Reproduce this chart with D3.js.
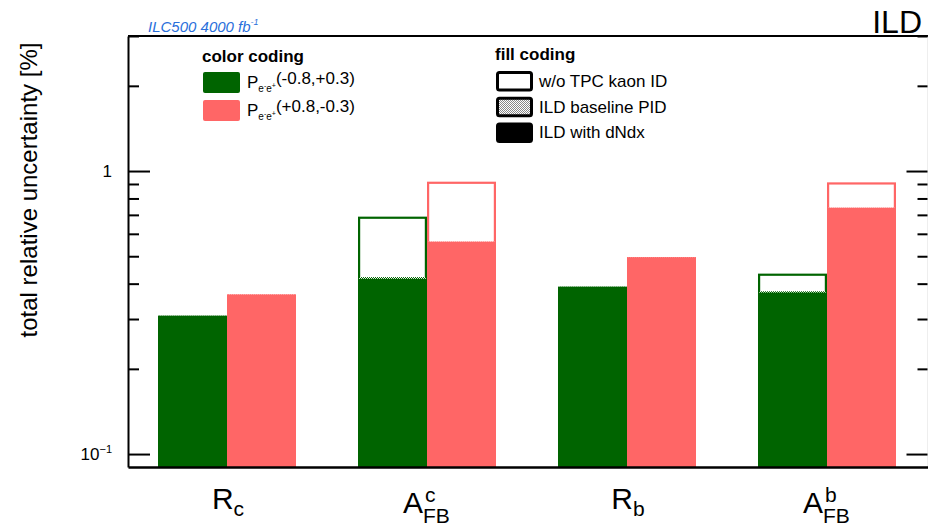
<!DOCTYPE html>
<meta charset="utf-8">

<head>
    <meta charset="utf-8">
    <script src="https://d3js.org/d3.v7.min.js"></script>
    <style>
        body { margin: 0; background: #fff; }
        svg { font-family: "Liberation Sans", Arial, Helvetica, sans-serif; }
    </style>
</head>

<body>
    <svg width="928" height="530"></svg>

    <script>
        // values
        var categories = ["Rc", "AFBc", "Rb", "AFBb"];
        var labelMain = ["R", "A", "R", "A"];
        var labelSub = ["c", "FB", "b", "FB"];
        var labelSup = ["", "c", "", "b"];

        // P(-0.8,+0.3)
        var woTpcLeft = [0.308, 0.690, 0.390, 0.434];
        var baselineLeft = [0.308, 0.422, 0.390, 0.376];
        var dndxLeft = [0.308, 0.416, 0.390, 0.372];
        // P(+0.8,-0.3)
        var woTpcRight = [0.366, 0.917, 0.496, 0.912];
        var baselineRight = [0.366, 0.563, 0.496, 0.742];
        var dndxRight = [0.366, 0.563, 0.496, 0.742];

        var majorTicks = [0.1, 1];
        var minorTicks = [0.2, 0.3, 0.4, 0.5, 0.6, 0.7, 0.8, 0.9, 2, 3];

        var green = "#006400";
        var red = "#ff6666";

        var svg = d3.select("svg");
        // note: "top" is taken by window.top, so use other names
        var plotL = 128, plotR = 928, plotT = 36, plotB = 467;

        var x = d3.scaleBand().domain(categories).range([plotL, plotR]).padding(0);
        var bw = x.bandwidth();
        var pol = d3.scaleBand().domain(["L", "R"]).range([0.15 * bw, 0.84 * bw]).padding(0);
        var y = d3.scaleLog().domain([0.09, 3.0]).range([plotB, plotT]);

        // dotted fill for the baseline PID
        var defs = svg.append("defs");
        function dots(id, c) {
            var p = defs.append("pattern").attr("id", id)
                .attr("width", 2).attr("height", 2).attr("patternUnits", "userSpaceOnUse");
            p.append("rect").attr("width", 2).attr("height", 2).attr("fill", "#fff");
            p.append("rect").attr("width", 1).attr("height", 1).attr("fill", c);
            p.append("rect").attr("x", 1).attr("y", 1).attr("width", 1).attr("height", 1).attr("fill", c);
        }
        dots("dotG", green);
        dots("dotR", red);
        dots("dotK", "#888");

        var rows = categories.map(function (c, i) {
            return [
                { cat: c, pol: "L", color: green, dot: "url(#dotG)", wo: woTpcLeft[i], base: baselineLeft[i], dndx: dndxLeft[i] },
                { cat: c, pol: "R", color: red, dot: "url(#dotR)", wo: woTpcRight[i], base: baselineRight[i], dndx: dndxRight[i] }
            ];
        }).flat();

        var bars = svg.append("g").selectAll("g")
            .data(rows).enter().append("g");

        // w/o TPC kaon ID : open box
        bars.append("rect")
            .attr("x", function (d) { return x(d.cat) + pol(d.pol) + 1.1; })
            .attr("y", function (d) { return y(d.wo) + 1.1; })
            .attr("width", pol.bandwidth() - 2.2)
            .attr("height", function (d) { return plotB - y(d.wo) - 2.2; })
            .attr("fill", "#fff")
            .attr("stroke", function (d) { return d.color; })
            .attr("stroke-width", 2.2);

        // ILD baseline PID
        bars.append("rect")
            .attr("x", function (d) { return x(d.cat) + pol(d.pol) + 1.1; })
            .attr("y", function (d) { return y(d.base); })
            .attr("width", pol.bandwidth() - 2.2)
            .attr("height", function (d) { return plotB - y(d.base); })
            .attr("fill", function (d) { return d.dot; });

        // ILD with dNdx
        bars.append("rect")
            .attr("x", function (d) { return x(d.cat) + pol(d.pol); })
            .attr("y", function (d) { return y(d.dndx); })
            .attr("width", pol.bandwidth())
            .attr("height", function (d) { return plotB - y(d.dndx); })
            .attr("fill", function (d) { return d.color; });

        // frame
        svg.append("line").attr("x1", plotL).attr("x2", plotR).attr("y1", plotT).attr("y2", plotT)
            .attr("stroke", "#000").attr("stroke-width", 2);

        //Y axis left
        var yMajor = svg.append("g")
            .attr("transform", "translate(" + plotL + ",0)")
            .call(d3.axisLeft(y).tickValues(majorTicks).tickSizeInner(-22).tickSizeOuter(0).tickPadding(16)
                .tickFormat(function (d) { return d === 1 ? "1" : "10"; }));
        yMajor.select(".domain").attr("stroke-width", 2);
        yMajor.selectAll(".tick line").attr("stroke-width", 2);
        yMajor.selectAll(".tick text")
            .attr("font-size", 17).attr("font-family", "Liberation Sans, Arial, sans-serif")
            .filter(function (d) { return d !== 1; })
            .append("tspan").attr("font-size", 11).attr("dy", -7).text("\u22121");

        svg.append("g")
            .attr("transform", "translate(" + plotL + ",0)")
            .call(d3.axisLeft(y).tickValues(minorTicks).tickSizeInner(-11).tickSizeOuter(0).tickFormat(""))
            .call(function (g) { g.select(".domain").remove(); })
            .selectAll(".tick line").attr("stroke-width", 2);

        //Y axis right
        var yRight = svg.append("g")
            .attr("transform", "translate(" + (plotR - 0.5) + ",0)")
            .call(d3.axisLeft(y).tickValues(majorTicks).tickSizeInner(21).tickSizeOuter(0).tickFormat(""));
        yRight.select(".domain").attr("stroke", "#ddd");
        yRight.selectAll(".tick line").attr("stroke-width", 2);
        svg.append("g")
            .attr("transform", "translate(" + (plotR - 0.5) + ",0)")
            .call(d3.axisLeft(y).tickValues(minorTicks).tickSizeInner(10).tickSizeOuter(0).tickFormat(""))
            .call(function (g) { g.select(".domain").remove(); })
            .selectAll(".tick line").attr("stroke-width", 2);

        //X axis
        var xAxis = svg.append("g")
            .attr("transform", "translate(0," + plotB + ")")
            .call(d3.axisBottom(x).tickSize(0).tickFormat(""));
        xAxis.select(".domain").attr("stroke-width", 2.5);

        // X labels
        categories.forEach(function (c, i) {
            var cx = x(c) + bw / 2;
            if (labelSup[i] === "") {
                var t = svg.append("text").attr("x", cx).attr("y", 509)
                    .attr("text-anchor", "middle").attr("font-size", 30).text(labelMain[i]);
                t.append("tspan").attr("font-size", 21).attr("dy", 7).text(labelSub[i]);
            } else {
                svg.append("text").attr("x", cx - 25).attr("y", 513).attr("font-size", 30).text(labelMain[i]);
                svg.append("text").attr("x", cx - 5).attr("y", 523).attr("font-size", 21).text(labelSub[i]);
                svg.append("text").attr("x", cx - 3).attr("y", 502).attr("font-size", 21).text(labelSup[i]);
            }
        });

        //Y axis label
        svg.append("text")
            .attr("transform", "translate(37,190) rotate(-90)")
            .attr("text-anchor", "middle")
            .attr("font-size", 24)
            .text("total relative uncertainty [%]");

        // top texts
        var lumi = svg.append("text").attr("x", 148).attr("y", 32)
            .attr("font-size", 15).attr("font-style", "italic").attr("fill", "#2a6fdb")
            .text("ILC500 4000 fb");
        lumi.append("tspan").attr("font-size", 9).attr("dy", -7).text("-1");

        svg.append("text").attr("x", 922).attr("y", 33)
            .attr("text-anchor", "end").attr("font-size", 32).text("ILD");

        // legend: color coding
        var colorNames = [["(-0.8,+0.3)", green], ["(+0.8,-0.3)", red]];
        var lc = svg.append("g");
        lc.append("text").attr("x", 202).attr("y", 62).attr("font-size", 17).attr("font-weight", "bold").text("color coding");
        colorNames.forEach(function (d, i) {
            var yy = 72 + i * 28;
            lc.append("rect").attr("x", 203).attr("y", yy).attr("width", 37).attr("height", 21)
                .attr("rx", 2).attr("fill", d[1]);
            var t = lc.append("text").attr("x", 247).attr("y", yy + 16).attr("font-size", 17).text("P");
            t.append("tspan").attr("font-size", 10).attr("dy", 4).text("e");
            t.append("tspan").attr("font-size", 7).attr("dy", -4).text("-");
            t.append("tspan").attr("font-size", 10).attr("dy", 4).text("e");
            t.append("tspan").attr("font-size", 7).attr("dy", -4).text("+");
            t.append("tspan").attr("font-size", 17).attr("dy", -4).text(d[0]);
        });

        // legend: fill coding
        var fillNames = [["w/o TPC kaon ID", "#fff"], ["ILD baseline PID", "url(#dotK)"], ["ILD with dNdx", "#000"]];
        var lf = svg.append("g");
        lf.append("text").attr("x", 495).attr("y", 60).attr("font-size", 17).attr("font-weight", "bold").text("fill coding");
        fillNames.forEach(function (d, i) {
            var yy = 71 + i * 25.7;
            lf.append("rect").attr("x", 497.5).attr("y", yy + 1.5).attr("width", 34).attr("height", 17.5)
                .attr("rx", 2).attr("fill", d[1]).attr("stroke", "#000").attr("stroke-width", 3);
            lf.append("text").attr("x", 539).attr("y", yy + 16).attr("font-size", 17).text(d[0]);
        });
    </script>
</body>

</html>
